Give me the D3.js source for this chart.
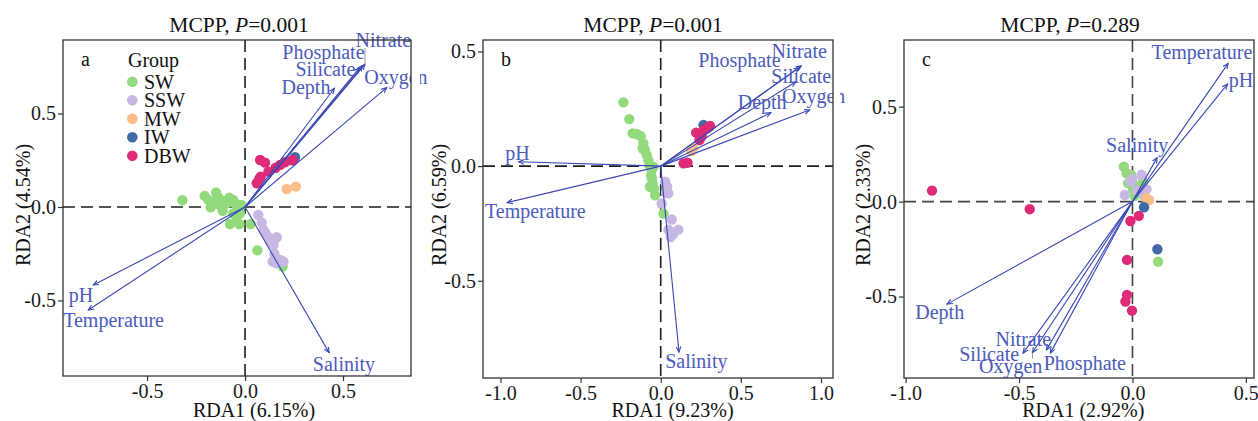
<!DOCTYPE html>
<html>
<head>
<meta charset="utf-8">
<script src="https://cdn.jsdelivr.net/npm/d3@7"></script>
<style>
  body { margin: 0; background: #fff; }
  text { font-family: "Liberation Serif", "Times New Roman", serif; }
</style>
</head>
<body>
<div id="chart"></div>
<script>
// groups shown in the legend
var groups = ["SW", "SSW", "MW", "IW", "DBW"];

// panel a: sample scores [RDA1, RDA2]
var aSW = [[-0.320,0.036],[-0.206,0.059],[-0.187,0.037],[-0.175,-0.002],[-0.148,0.077],[-0.128,0.041],[-0.114,-0.020],[-0.080,0.050],[-0.060,0.037],[-0.049,0.016],[-0.039,-0.016],[-0.077,-0.091],[-0.029,-0.091],[0.029,-0.091],[0.063,-0.232],[0.192,-0.319],[-0.026,-0.034],[-0.060,-0.034],[-0.128,0.011],[-0.094,0.020],[-0.162,0.020],[-0.017,0.011],[-0.140,0.055],[-0.100,0.030],[-0.043,-0.052]];
var aSSW = [[0.068,-0.043],[0.085,-0.084],[0.094,-0.123],[0.105,-0.141],[0.119,-0.162],[0.162,-0.162],[0.145,-0.203],[0.128,-0.185],[0.141,-0.292],[0.179,-0.283],[0.196,-0.292],[0.162,-0.301],[0.150,-0.250]];
var aMW = [[0.213,0.096],[0.259,0.109]];
var aIW = [[0.255,0.266],[0.240,0.250]];
var aDBW = [[0.077,0.251],[0.102,0.237],[0.119,0.189],[0.156,0.210],[0.179,0.225],[0.204,0.239],[0.060,0.127],[0.073,0.150],[0.080,0.162],[0.243,0.251]];
// panel a: environmental vectors and their label positions
var aVars = ["Depth","Phosphate","Silicate","Nitrate","Oxygen","pH","Temperature","Salinity"];
var aTipX = [0.456, 0.600, 0.585, 0.612, 0.723, -0.774, -0.800, 0.429];
var aTipY = [0.635, 0.755, 0.745, 0.763, 0.638, -0.417, -0.551, -0.779];
var aLabX = [0.311, 0.400, 0.410, 0.706, 0.770, -0.837, -0.671, 0.505];
var aLabY = [0.639, 0.829, 0.739, 0.893, 0.694, -0.473, -0.602, -0.838];

// panel b
var bSW = [[-0.233,0.278],[-0.196,0.205],[-0.175,0.143],[-0.125,0.131],[-0.108,0.099],[-0.098,0.070],[-0.0875,0.048],[-0.077,0.026],[-0.071,0.004],[-0.056,-0.017],[-0.056,-0.054],[-0.050,-0.076],[-0.042,-0.098],[-0.035,-0.127],[-0.067,-0.090],[0.017,-0.207],[-0.1125,0.077],[-0.046,-0.003],[-0.150,0.140],[-0.060,-0.040]];
var bSSW = [[0.033,-0.116],[0.048,-0.119],[0.006,-0.163],[0.069,-0.233],[0.048,-0.277],[0.079,-0.294],[0.110,-0.277],[0.0625,-0.309],[0.027,-0.068],[0.040,-0.090]];
var bMW = [[0.204,0.077],[0.190,0.065]];
var bIW = [[0.267,0.179]];
var bDBW = [[0.221,0.146],[0.267,0.157],[0.308,0.175],[0.242,0.114],[0.256,0.131],[0.142,0.012],[0.167,0.015],[0.290,0.165]];
var bVars = ["Depth","Phosphate","Silicate","Nitrate","Oxygen","pH","Temperature","Salinity"];
var bTipX = [0.6875, 0.865, 0.844, 0.877, 0.929, -0.886, -0.958, 0.114];
var bTipY = [0.233, 0.430, 0.368, 0.437, 0.245, 0.019, -0.159, -0.811];
var bLabX = [0.633, 0.491, 0.877, 0.864, 0.954, -0.894, -0.7825, 0.2225];
var bLabY = [0.279, 0.461, 0.395, 0.504, 0.306, 0.057, -0.194, -0.849];

// panel c
var cSW = [[-0.038,0.184],[-0.026,0.149],[-0.006,0.140],[-0.019,0.096],[0.025,0.080],[0.040,0.050],[0.010,0.030],[0.047,0.105],[0.113,-0.316],[0.003,0.065]];
var cSSW = [[0.040,0.141],[-0.009,0.105],[-0.034,0.035],[0.073,0.009],[0.020,0.060],[0.062,0.065],[0.000,0.120],[0.050,0.030]];
var cMW = [[0.062,0.018],[0.072,0.008]];
var cIW = [[0.051,-0.030],[0.110,-0.251]];
var cDBW = [[-0.884,0.058],[-0.453,-0.040],[-0.009,-0.102],[0.028,-0.075],[-0.024,-0.307],[-0.024,-0.491],[-0.031,-0.526],[-0.002,-0.574]];
var cVars = ["Temperature","pH","Salinity","Depth","Silicate","Oxygen","Nitrate","Phosphate"];
var cTipX = [0.422, 0.419, 0.1087, -0.818, -0.4826, -0.441, -0.379, -0.362];
var cTipY = [0.728, 0.619, 0.2316, -0.540, -0.798, -0.795, -0.781, -0.798];
var cLabX = [0.3066, 0.479, 0.021, -0.850, -0.632, -0.537, -0.481, -0.210];
var cLabY = [0.788, 0.640, 0.296, -0.581, -0.800, -0.868, -0.721, -0.849];

var width = 1258, height = 421;
var fontSize = 20, titleSize = 21.5;
var colors = {SW: "#93da7d", SSW: "#c6b7e3", MW: "#fdbd88", IW: "#4169a6", DBW: "#df2a77"};
var arrowColor = "#3848b4", labelColor = "#4b5bbb";

var panels = [
    {id: "a", p: "0.001", xlab: "RDA1 (6.15%)", ylab: "RDA2 (4.54%)",
     pts: {SW: aSW, SSW: aSSW, MW: aMW, IW: aIW, DBW: aDBW},
     vars: aVars, tipX: aTipX, tipY: aTipY, labX: aLabX, labY: aLabY,
     left: 63, right: 411, top: 40, bottom: 376, outer: 420,
     xdom: [-0.929, 0.847], ydom: [-0.904, 0.893],
     xticks: [-0.5, 0, 0.5], yticks: [-0.5, 0, 0.5],
     titleX: 239, xlabX: 254, ylabX: 22.5, dash: "#1e1e1e", legend: true, seg: ["Nitrate"]},
    {id: "b", p: "0.001", xlab: "RDA1 (9.23%)", ylab: "RDA2 (6.59%)",
     pts: {SW: bSW, SSW: bSSW, MW: bMW, IW: bIW, DBW: bDBW},
     vars: bVars, tipX: bTipX, tipY: bTipY, labX: bLabX, labY: bLabY,
     left: 483, right: 833, top: 40, bottom: 378, outer: 840,
     xdom: [-1.109, 1.075], ydom: [-0.924, 0.55],
     xticks: [-1, -0.5, 0, 0.5, 1], yticks: [-0.5, 0, 0.5],
     titleX: 653, xlabX: 672.5, ylabX: 439, dash: "#1e1e1e", legend: false, seg: []},
    {id: "c", p: "0.289", xlab: "RDA1 (2.92%)", ylab: "RDA2 (2.33%)",
     pts: {SW: cSW, SSW: cSSW, MW: cMW, IW: cIW, DBW: cDBW},
     vars: cVars, tipX: cTipX, tipY: cTipY, labX: cLabX, labY: cLabY,
     left: 904, right: 1254, top: 40, bottom: 378, outer: 1258,
     xdom: [-1.0075, 0.536], ydom: [-0.929, 0.851],
     xticks: [-1, -0.5, 0, 0.5], yticks: [-0.5, 0, 0.5],
     titleX: 1070, xlabX: 1083.3, ylabX: 863.3, dash: "#444", legend: false, seg: ["Oxygen"]}
];

var svg = d3.select("#chart").append("svg")
    .attr("width", width)
    .attr("height", height);

var defs = svg.append("defs");
defs.append("marker")
    .attr("id", "arrow")
    .attr("viewBox", "0 -4 8 8")
    .attr("refX", 5.5)
    .attr("refY", 0)
    .attr("markerWidth", 8)
    .attr("markerHeight", 8)
    .attr("markerUnits", "userSpaceOnUse")
    .attr("orient", "auto")
    .append("path")
    .attr("d", "M0,-2.4L5.5,0L0,2.4")
    .attr("fill", "none")
    .attr("stroke", arrowColor)
    .attr("stroke-width", 1.1);

var fmt = function (d) { return d.toFixed(1); };

panels.forEach(function (P) {
    var x = d3.scaleLinear().domain(P.xdom).range([P.left, P.right]);
    var y = d3.scaleLinear().domain(P.ydom).range([P.bottom, P.top]);
    var g = svg.append("g");

    // clip for the plot area; labels are only cut at the right border
    // (and show again past the panel's outer edge, as in the original)
    defs.append("clipPath").attr("id", "clip-" + P.id)
        .append("rect")
        .attr("x", P.left).attr("y", P.top)
        .attr("width", P.right - P.left).attr("height", P.bottom - P.top);
    var lc = defs.append("clipPath").attr("id", "lclip-" + P.id);
    lc.append("rect")
        .attr("x", P.left - 60).attr("y", 0)
        .attr("width", P.right - P.left + 60).attr("height", height);
    lc.append("rect")
        .attr("x", P.outer).attr("y", 0)
        .attr("width", 40).attr("height", height);

    // title
    var t = g.append("text")
        .attr("x", P.titleX).attr("y", 31.5)
        .attr("text-anchor", "middle")
        .attr("font-size", titleSize)
        .attr("fill", "#111");
    t.append("tspan").text("MCPP, ");
    t.append("tspan").attr("font-style", "italic").text("P");
    t.append("tspan").text("=" + P.p);

    // axes
    var xa = g.append("g")
        .attr("transform", "translate(0," + P.bottom + ")")
        .call(d3.axisBottom(x).tickValues(P.xticks).tickFormat(fmt).tickSize(5).tickSizeOuter(0).tickPadding(3));
    var ya = g.append("g")
        .attr("transform", "translate(" + P.left + ",0)")
        .call(d3.axisLeft(y).tickValues(P.yticks).tickFormat(fmt).tickSize(5).tickSizeOuter(0).tickPadding(2));
    [xa, ya].forEach(function (a) {
        a.select(".domain").remove();
        a.selectAll(".tick line").attr("stroke", "#333").attr("stroke-width", 1.2);
        a.selectAll(".tick text")
            .attr("font-family", "Liberation Serif, serif")
            .attr("font-size", fontSize)
            .attr("fill", "#1a1a1a");
    });

    g.append("text")
        .attr("x", P.xlabX).attr("y", 417)
        .attr("text-anchor", "middle")
        .attr("font-size", fontSize)
        .attr("fill", "#111")
        .text(P.xlab);
    g.append("text")
        .attr("transform", "translate(" + P.ylabX + "," + 205 + ") rotate(-90)")
        .attr("dy", "0.35em")
        .attr("text-anchor", "middle")
        .attr("font-size", fontSize)
        .attr("fill", "#111")
        .text(P.ylab);

    var plot = g.append("g").attr("clip-path", "url(#clip-" + P.id + ")");

    // zero lines
    plot.append("line")
        .attr("x1", x(0)).attr("x2", x(0))
        .attr("y1", P.top).attr("y2", P.bottom)
        .attr("stroke", P.dash).attr("stroke-width", 1.6)
        .attr("stroke-dasharray", "12,6");
    plot.append("line")
        .attr("x1", P.left).attr("x2", P.right)
        .attr("y1", y(0)).attr("y2", y(0))
        .attr("stroke", P.dash).attr("stroke-width", 1.6)
        .attr("stroke-dasharray", "12,6");

    // samples
    groups.forEach(function (grp) {
        plot.selectAll(null)
            .data(P.pts[grp])
            .enter().append("circle")
            .attr("cx", function (d) { return x(d[0]); })
            .attr("cy", function (d) { return y(d[1]); })
            .attr("r", 5.2)
            .attr("fill", colors[grp]);
    });

    // environmental arrows
    var vdata = P.vars.map(function (v, i) {
        return {name: v, tx: P.tipX[i], ty: P.tipY[i], lx: P.labX[i], ly: P.labY[i]};
    });
    plot.selectAll(null)
        .data(vdata)
        .enter().append("line")
        .attr("x1", x(0)).attr("y1", y(0))
        .attr("x2", function (d) { return x(d.tx); })
        .attr("y2", function (d) { return y(d.ty); })
        .attr("stroke", arrowColor)
        .attr("stroke-width", 1.1)
        .attr("marker-end", "url(#arrow)");

    var lab = g.append("g").attr("clip-path", "url(#lclip-" + P.id + ")");
    var texts = lab.selectAll(null)
        .data(vdata)
        .enter().append("text")
        .attr("x", function (d) { return x(d.lx); })
        .attr("y", function (d) { return y(d.ly); })
        .attr("dy", "0.35em")
        .attr("text-anchor", "middle")
        .attr("font-size", fontSize)
        .attr("fill", labelColor)
        .text(function (d) { return d.name; });

    // repel-style connector from label box to arrow tip
    texts.each(function (d) {
        if (P.seg.indexOf(d.name) < 0) return;
        var bb = this.getBBox();
        var px = x(d.tx), py = y(d.ty);
        var nx = Math.max(bb.x, Math.min(px, bb.x + bb.width));
        var ny = Math.max(bb.y + 3, Math.min(py, bb.y + bb.height - 3));
        lab.append("line")
            .attr("x1", nx).attr("y1", ny)
            .attr("x2", px).attr("y2", py)
            .attr("stroke", "#999").attr("stroke-width", 1);
    });

    // panel letter
    g.append("text")
        .attr("x", P.left + 18).attr("y", 66)
        .attr("font-size", fontSize)
        .attr("fill", "#111")
        .text(P.id);

    // legend
    if (P.legend) {
        var lg = g.append("g");
        lg.append("text")
            .attr("x", P.left + 65).attr("y", 67)
            .attr("font-size", fontSize)
            .attr("fill", "#111")
            .text("Group");
        groups.forEach(function (grp, i) {
            var cy = 81.7 + i * 18.5;
            lg.append("circle")
                .attr("cx", P.left + 69.3).attr("cy", cy)
                .attr("r", 5.3)
                .attr("fill", colors[grp]);
            lg.append("text")
                .attr("x", P.left + 81).attr("y", cy)
                .attr("dy", "0.35em")
                .attr("font-size", fontSize)
                .attr("fill", "#111")
                .text(grp);
        });
    }

    // panel border
    g.append("rect")
        .attr("x", P.left).attr("y", P.top)
        .attr("width", P.right - P.left).attr("height", P.bottom - P.top)
        .attr("fill", "none")
        .attr("stroke", "#333")
        .attr("stroke-width", 1.3);
});
</script>
</body>
</html>
